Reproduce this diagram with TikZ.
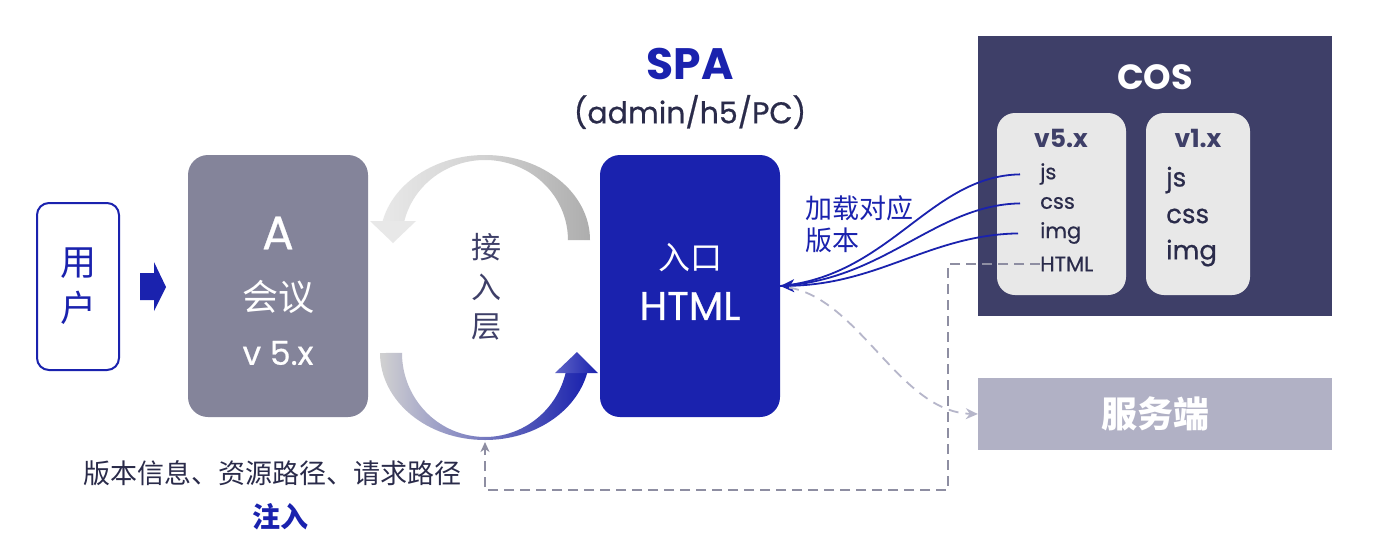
\documentclass[tikz,border=0pt]{standalone}
\usepackage{fontspec}
\setmainfont{Poppins}[UprightFeatures={FakeBold=0.6}]
\newfontfamily\cjk{Noto Sans CJK SC}
\usetikzlibrary{arrows.meta}
\definecolor{myblue}{HTML}{1A22AE}
\definecolor{agray}{HTML}{84849A}
\definecolor{cosbg}{HTML}{3E3F68}
\definecolor{card}{HTML}{E8E8E8}
\definecolor{dark}{HTML}{2A2B4A}
\definecolor{srv}{HTML}{B1B1C5}
\definecolor{dash1}{HTML}{8E8EA2}
\definecolor{dash2}{HTML}{B6B6CA}
\newcommand\fsz[2]{\fontsize{#1}{#2}\selectfont}
\begin{document}
\begin{tikzpicture}[x=1pt,y=-1pt,
  bigbox/.style={rectangle, rounded corners=20pt, minimum width=180pt, minimum height=262pt, inner sep=0pt},
  lbl/.style={inner sep=0pt, align=center},
  cardbox/.style={rectangle, rounded corners=18pt, fill=card, minimum height=182pt, inner sep=0pt},
  item/.style={inner sep=0pt, anchor=west, text=dark},
  loadline/.style={draw=myblue, line width=1.8pt},
  dashA/.style={draw=dash1, line width=1.8pt, dash pattern=on 10pt off 6pt},
  dashB/.style={draw=dash2, line width=1.8pt, dash pattern=on 10pt off 7pt}
]
\path[fill=white] (0,0) rectangle (1400,558);
\useasboundingbox (0,0) rectangle (1400,558);

% user
\node[rectangle, rounded corners=12pt, draw=myblue, line width=2pt, minimum width=82pt, minimum height=167pt, inner sep=0pt, text=myblue, align=center, font=\cjk\fsz{36}{46}] (user) at (78,286.5) {用\\户};
% block arrow
\fill[myblue] (140,273) -- (154,273) -- (154,262) -- (166,287) -- (154,311) -- (154,300) -- (140,300) -- cycle;

% A box
\node[bigbox, fill=agray] (abox) at (278,286) {};
\node[lbl, text=white, font=\fsz{47}{50}] (atitle) at (278,233) {A};
\node[lbl, text=white, font=\cjk\fsz{36}{40}] (ameet) at (278,297) {会议};
\node[lbl, text=white, font=\fsz{33}{36}] (aver) at (278,353) {v 5.x};

% entry box
\node[bigbox, fill=myblue] (entry) at (690,286) {};
\node[lbl, text=white, font=\cjk\fsz{32}{36}] (entrytxt) at (690,258) {入口};
\node[lbl, text=white, font=\fsz{40}{44}] (entryhtml) at (690,306) {HTML};

% SPA title
\node[lbl, text=myblue, font=\bfseries\fsz{44}{48}] (spa) at (690,64) {SPA};
\node[lbl, text=dark, font=\fsz{30}{34}] (spasub) at (690,112) {(admin/h5/PC)};

% access layer arcs
\shade[left color=card, right color=black!32, middle color=black!18]
  (590,240) arc[start angle=0, end angle=-168, x radius=105, y radius=85]
  -- (404.1,222) arc[start angle=-167, end angle=0, x radius=83, y radius=80] -- cycle;
\fill[card] (370,221) -- (416,221) -- (393,243) -- cycle;

\shade[left color=black!18, middle color=black!40!myblue!55!white, right color=myblue]
  (380,353) arc[start angle=180, end angle=13.3, x radius=105, y radius=87]
  -- (565.6,373) arc[start angle=13.8, end angle=180, x radius=83, y radius=84] -- cycle;
\shade[left color=myblue!70!white, right color=myblue] (555,373) -- (598,373) -- (577,352) -- cycle;

\node[lbl, text=cosbg, font=\cjk\fsz{30}{39.5}] (layer) at (486,287) {接\\入\\层};

% COS
\node[rectangle, fill=cosbg, minimum width=354pt, minimum height=280pt, inner sep=0pt] (cos) at (1155,176) {};
\node[lbl, text=white, font=\bfseries\fsz{35}{38}] (costitle) at (1155,77) {COS};
\node[cardbox, minimum width=129pt] (v5card) at (1061.5,204) {};
\node[cardbox, minimum width=104pt] (v1card) at (1198,204) {};
\node[lbl, text=cosbg, font=\bfseries\fsz{25}{28}] (v5t) at (1061,138) {v5.x};
\node[lbl, text=cosbg, font=\bfseries\fsz{25}{28}] (v1t) at (1198,138) {v1.x};
\node[item, font=\fsz{21}{24}] (js5) at (1040,174) {js};
\node[item, font=\fsz{21}{24}] (css5) at (1040,203) {css};
\node[item, font=\fsz{21}{24}] (img5) at (1040,233) {img};
\node[item, font=\fsz{21}{24}] (html5) at (1040,264) {HTML};
\node[item, font=\fsz{26}{29}] (js1) at (1166,180) {js};
\node[item, font=\fsz{26}{29}] (css1) at (1166,216) {css};
\node[item, font=\fsz{26}{29}] (img1) at (1166,253) {img};

% server
\node[rectangle, fill=srv, minimum width=354pt, minimum height=72pt, inner sep=0pt, text=white, font=\cjk\bfseries\fsz{36}{40}] (server) at (1155,414) {服务端};

% load label
\node[inner sep=0pt, anchor=west, align=left, text=myblue, font=\cjk\fsz{27}{32}] (loadlbl) at (805,224) {加载对应\\版本};

% load curves
\draw[loadline, shorten <=20pt] (js5.west) .. controls (930,176) and (890,276) .. (entry.east);
\draw[loadline, shorten <=20pt] (css5.west) .. controls (935,205) and (885,280) .. (entry.east);
\draw[loadline, shorten <=22pt, -{Stealth[length=14pt, width=13pt, inset=4pt]}] (img5.west) .. controls (930,235) and (880,284) .. (entry.east);

% dashed HTML -> injection
\coordinate (c1) at (948,264);
\coordinate (c2) at (948,490);
\coordinate (c3) at (485,490);
\coordinate (inj) at (485,442);
\draw[dashA, -{Stealth[length=10pt, width=9pt, inset=3pt]}] (html5.west) -- (c1) -- (c2) -- (c3) -- (inj);

% dashed entry -> server
\draw[dashB, shorten <=9pt, -{Stealth[length=12pt, width=11pt, inset=4pt]}] (entry.east) .. controls (860,300) and (900,412) .. (server.west);

% bottom text
\node[lbl, text=dark, font=\cjk\fsz{27}{30}] (info) at (272,473) {版本信息、资源路径、请求路径};
\node[lbl, text=myblue, font=\cjk\bfseries\fsz{28}{30}] (inject) at (280,517) {注入};
\end{tikzpicture}
\end{document}
